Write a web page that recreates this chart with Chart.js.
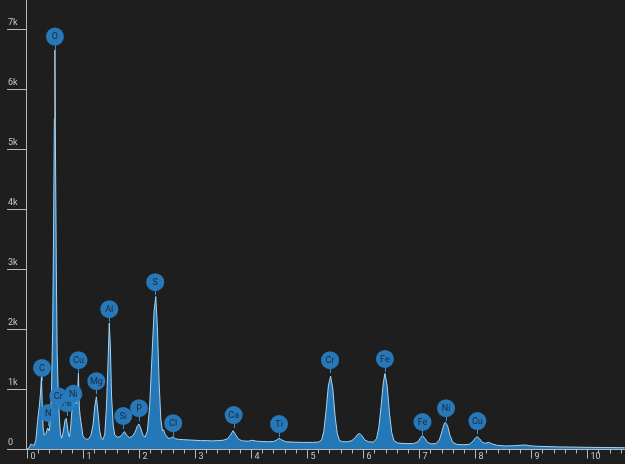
<!DOCTYPE html>
<html>
<head>
<meta charset="utf-8">
<title>EDS spectrum</title>
<script src="https://cdn.jsdelivr.net/npm/chart.js@4/dist/chart.umd.min.js"></script>
<style>
  html, body { margin: 0; padding: 0; background: #1e1e1e; }
  #wrap { width: 625px; height: 464px; position: relative; }
</style>
</head>
<body>
<div id="wrap"><canvas id="spec" width="625" height="464"></canvas></div>
<script>
// Energy channels (keV) and counts of the measured spectrum
const energyKeV = [
  0.00, 0.04, 0.07, 0.10, 0.13, 0.16, 0.19, 0.22, 0.24, 0.26, 0.275, 0.29, 0.31, 0.34, 0.37, 0.40,
  0.42, 0.44, 0.46, 0.475, 0.49, 0.50, 0.51, 0.525, 0.54, 0.56, 0.58, 0.60, 0.62, 0.64, 0.66, 0.68,
  0.70, 0.72, 0.74, 0.76, 0.78, 0.80, 0.82, 0.84, 0.86, 0.88, 0.90, 0.92, 0.935, 0.95, 0.98, 1.00,
  1.03, 1.06, 1.10, 1.14, 1.18, 1.21, 1.24, 1.27, 1.30, 1.33, 1.36, 1.39, 1.42, 1.45, 1.47, 1.49,
  1.51, 1.54, 1.57, 1.61, 1.66, 1.70, 1.74, 1.78, 1.83, 1.88, 1.93, 1.97, 2.00, 2.03, 2.07, 2.11,
  2.15, 2.19, 2.23, 2.27, 2.30, 2.33, 2.36, 2.39, 2.42, 2.44, 2.47, 2.52, 2.57, 2.61, 2.65, 2.72,
  2.80, 2.90, 3.00, 3.10, 3.20, 3.30, 3.40, 3.50, 3.58, 3.63, 3.68, 3.73, 3.78, 3.85, 3.95, 4.02,
  4.10, 4.20, 4.30, 4.40, 4.46, 4.50, 4.55, 4.62, 4.75, 4.90, 5.00, 5.10, 5.20, 5.26, 5.30, 5.34,
  5.38, 5.42, 5.46, 5.50, 5.54, 5.58, 5.64, 5.72, 5.80, 5.86, 5.90, 5.94, 5.98, 6.03, 6.10, 6.18,
  6.24, 6.28, 6.32, 6.36, 6.39, 6.43, 6.47, 6.51, 6.55, 6.62, 6.75, 6.90, 6.98, 7.02, 7.06, 7.10,
  7.15, 7.22, 7.30, 7.36, 7.41, 7.45, 7.47, 7.51, 7.55, 7.60, 7.68, 7.80, 7.90, 7.96, 8.01, 8.04,
  8.08, 8.13, 8.18, 8.24, 8.30, 8.40, 8.55, 8.70, 8.85, 8.90, 8.96, 9.10, 9.30, 9.50, 9.75, 10.00,
  10.30, 10.67
];
const counts = [
  0, 20, 80, 70, 60, 150, 460, 700, 900, 1200, 700, 350, 230, 260, 350, 300,
  500, 1000, 2000, 3500, 5500, 6650, 5000, 3000, 1600, 900, 500, 250, 180, 250, 350, 480,
  510, 400, 250, 200, 350, 600, 780, 800, 810, 750, 800, 1270, 700, 550, 350, 220,
  180, 160, 170, 220, 400, 700, 870, 600, 300, 170, 160, 250, 700, 1500, 2100, 1700,
  900, 400, 230, 200, 200, 240, 290, 230, 190, 210, 280, 380, 415, 350, 230, 200,
  300, 700, 1500, 2300, 2540, 2000, 1100, 500, 300, 320, 240, 180, 180, 205, 170, 160,
  155, 150, 145, 140, 140, 135, 140, 145, 170, 230, 305, 230, 160, 135, 130, 145,
  130, 125, 120, 125, 150, 178, 150, 120, 115, 110, 110, 110, 115, 150, 300, 650,
  1050, 1215, 1000, 550, 250, 140, 120, 120, 140, 190, 240, 260, 220, 150, 120, 115,
  170, 350, 700, 1100, 1260, 1050, 600, 280, 140, 100, 90, 90, 120, 180, 222, 180,
  110, 85, 90, 150, 300, 430, 445, 380, 230, 110, 75, 70, 80, 130, 190, 205,
  170, 110, 95, 112, 85, 60, 50, 55, 65, 68, 55, 45, 40, 35, 32, 28,
  25, 22
];

// Element markers: symbol, line energy (keV) and the count level the marker sits on
const peakElements = ['C', 'N', 'Fe', 'Cr', 'Ni', 'Cu', 'O', 'Mg', 'Al', 'Si', 'P', 'S', 'Cl', 'Ca', 'Ti', 'Cr', 'Fe', 'Fe', 'Ni', 'Cu'];
const peakEnergies = [0.27, 0.38, 0.71, 0.56, 0.83, 0.92, 0.50, 1.24, 1.47, 1.72, 2.00, 2.29, 2.61, 3.69, 4.50, 5.41, 6.39, 7.06, 7.48, 8.04];
const peakLevels = [1100, 350, 515, 630, 670, 1230, 6620, 880, 2080, 300, 430, 2530, 180, 315, 165, 1230, 1250, 200, 430, 215];

// Axis ticks
const yTickValues = [0, 1000, 2000, 3000, 4000, 5000, 6000, 7000];
const yTickLabels = ['0', '1k', '2k', '3k', '4k', '5k', '6k', '7k'];
const xMajorTicks = [0, 1, 2, 3, 4, 5, 6, 7, 8, 9, 10];

const X_MIN = -0.016;
const X_MAX = 10.674;
const Y_MAX = 7480;

const axisColor = '#b9b9b9';
const labelColor = '#c8c8c8';

// Custom axes: y labels sit above their tick lines, x labels sit right of their ticks
const axesPlugin = {
  id: 'edsAxes',
  afterDatasetsDraw(chart) {
    const ctx = chart.ctx;
    const xs = chart.scales.x, ys = chart.scales.y;
    const area = chart.chartArea;
    ctx.save();
    ctx.strokeStyle = axisColor;
    ctx.lineWidth = 1;
    // y axis line
    ctx.beginPath();
    ctx.moveTo(area.left + 0.5, area.top);
    ctx.lineTo(area.left + 0.5, area.bottom);
    ctx.stroke();
    // x axis line
    const yb = Math.round(ys.getPixelForValue(0)) + 0.5;
    ctx.beginPath();
    ctx.moveTo(7, yb);
    ctx.lineTo(chart.width, yb);
    ctx.stroke();
    // y ticks
    ctx.font = '9px Roboto, "DejaVu Sans", sans-serif';
    ctx.fillStyle = labelColor;
    ctx.textAlign = 'left';
    ctx.textBaseline = 'bottom';
    yTickValues.forEach((v, i) => {
      const py = Math.round(ys.getPixelForValue(v)) + 0.5;
      ctx.beginPath();
      ctx.moveTo(7, py);
      ctx.lineTo(area.left, py);
      ctx.stroke();
      ctx.fillText(yTickLabels[i], 8, py - 2);
    });
    // x minor ticks every 0.2 keV
    for (let k = 0; k * 0.2 <= X_MAX + 1e-9; k++) {
      const e = k * 0.2;
      const px = Math.round(xs.getPixelForValue(e)) + 0.5;
      const major = k % 5 === 0;
      ctx.beginPath();
      ctx.moveTo(px, yb);
      ctx.lineTo(px, yb + (major ? 9 : 4));
      ctx.stroke();
    }
    ctx.textBaseline = 'middle';
    xMajorTicks.forEach(v => {
      const px = Math.round(xs.getPixelForValue(v)) + 0.5;
      ctx.fillText(String(v), px + 3, yb + 7);
    });
    ctx.restore();
  }
};

// Round element markers above the peaks
const markerPlugin = {
  id: 'edsMarkers',
  afterDraw(chart) {
    const ctx = chart.ctx;
    const xs = chart.scales.x, ys = chart.scales.y;
    ctx.save();
    ctx.font = '9px Roboto, "DejaVu Sans", sans-serif';
    ctx.textAlign = 'center';
    ctx.textBaseline = 'middle';
    peakElements.forEach((el, i) => {
      const px = xs.getPixelForValue(peakEnergies[i]);
      const py = ys.getPixelForValue(peakLevels[i]);
      const cy = py - 15;
      ctx.strokeStyle = '#3a8fd0';
      ctx.lineWidth = 1;
      ctx.beginPath();
      ctx.moveTo(Math.round(px) + 0.5, cy + 8);
      ctx.lineTo(Math.round(px) + 0.5, cy + 13);
      ctx.stroke();
      ctx.fillStyle = 'rgba(40,124,192,0.96)';
      ctx.beginPath();
      ctx.arc(px, cy, 9, 0, Math.PI * 2);
      ctx.fill();
      ctx.fillStyle = '#1c2a38';
      ctx.fillText(el, px, cy + 0.5);
    });
    ctx.restore();
  }
};

const points = energyKeV.map((e, i) => ({ x: e, y: counts[i] }));

new Chart(document.getElementById('spec'), {
  type: 'line',
  data: {
    datasets: [{
      data: points,
      fill: 'origin',
      backgroundColor: 'rgb(36,120,184)',
      borderColor: '#a6d3f0',
      borderWidth: 1,
      pointRadius: 0,
      tension: 0
    }]
  },
  options: {
    responsive: false,
    animation: false,
    events: [],
    layout: { padding: { left: 26, right: 0, top: 0, bottom: 15 } },
    plugins: { legend: { display: false }, tooltip: { enabled: false } },
    scales: {
      x: { type: 'linear', min: X_MIN, max: X_MAX, display: false },
      y: { type: 'linear', min: 0, max: Y_MAX, display: false }
    }
  },
  plugins: [axesPlugin, markerPlugin]
});
</script>
</body>
</html>
